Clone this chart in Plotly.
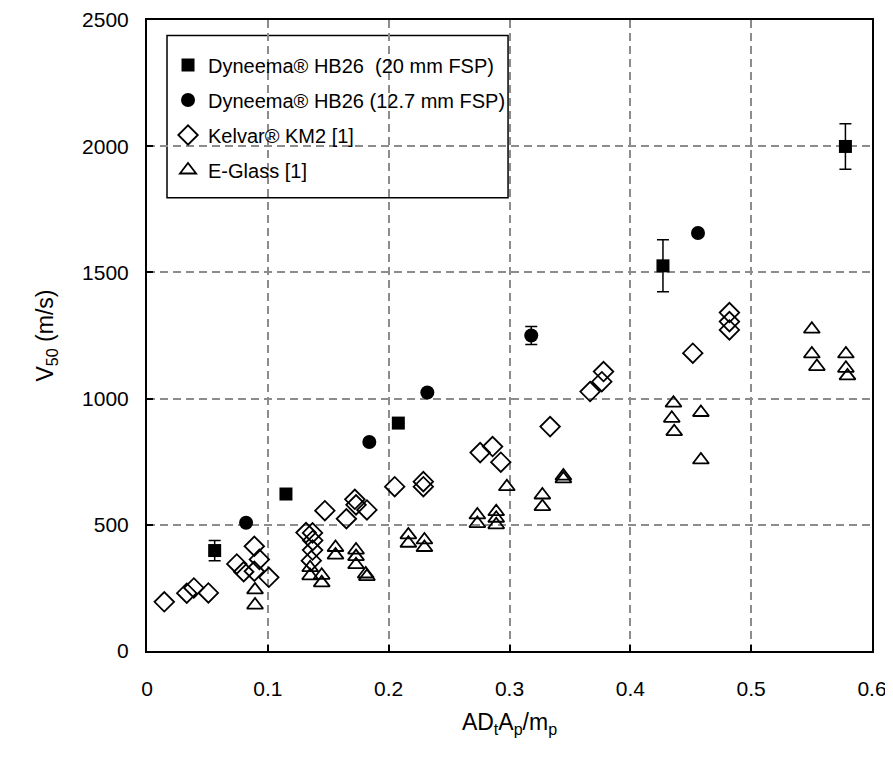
import plotly.graph_objects as go

# Dyneema HB26 (20 mm FSP)
dy20_x = [0.056, 0.115, 0.208, 0.427, 0.578]
dy20_y = [398, 622, 903, 1526, 1999]
dy20_err = [40, 0, 0, 103, 90]

# Dyneema HB26 (12.7 mm FSP)
dy12_x = [0.082, 0.184, 0.232, 0.318, 0.456]
dy12_y = [508, 828, 1024, 1250, 1656]
dy12_err = [0, 0, 0, 36, 0]

# Kevlar KM2 [1]
kev_x = [0.0143, 0.0329, 0.0388, 0.0508, 0.0743, 0.0800, 0.0888, 0.0930, 0.0888, 0.1008,
         0.1316, 0.1370, 0.1372, 0.1370, 0.1360, 0.1472, 0.1650, 0.1720, 0.1730, 0.1820,
         0.2050, 0.2287, 0.2287, 0.2757, 0.2860, 0.2928, 0.3336, 0.3667, 0.3764, 0.3778,
         0.4517, 0.4820, 0.4820, 0.4820]
kev_y = [195, 229, 250, 230, 345, 314, 415, 363, 316, 292,
         469, 468, 438, 400, 358, 556, 524, 601, 579, 559,
         651, 671, 651, 786, 810, 748, 889, 1028, 1067, 1107,
         1180, 1341, 1305, 1272]

# E-Glass [1]
eg_x = [0.0894, 0.0894, 0.1350, 0.1350, 0.1446, 0.1446, 0.1560, 0.1560, 0.1730, 0.1730,
        0.1730, 0.1810, 0.1820, 0.2163, 0.2163, 0.2296, 0.2296, 0.2734, 0.2734, 0.2890,
        0.2890, 0.2890, 0.2978, 0.3272, 0.3272, 0.3446, 0.3446, 0.4357, 0.4343, 0.4363,
        0.4584, 0.4584, 0.5502, 0.5502, 0.5544, 0.5784, 0.5784, 0.5797]
eg_y = [242, 182, 330, 298, 300, 270, 410, 380, 400, 374,
        342, 305, 295, 460, 427, 440, 410, 539, 505, 552,
        526, 500, 651, 618, 572, 693, 682, 982, 922, 869,
        945, 757, 1275, 1177, 1127, 1177, 1120, 1090]

x_ticks = [0, 0.1, 0.2, 0.3, 0.4, 0.5, 0.6]
x_tick_text = ["0", "0.1", "0.2", "0.3", "0.4", "0.5", "0.6"]
y_ticks = [0, 500, 1000, 1500, 2000, 2500]

FONT = "Arial, Liberation Sans, sans-serif"

fig = go.Figure()

fig.add_trace(go.Scatter(
    x=dy20_x, y=dy20_y, mode="markers", name="Dyneema® HB26  (20 mm FSP)", legendgroup="a",
    marker=dict(symbol="square", size=13, color="black"),
    error_y=dict(type="data", array=dy20_err, visible=True, color="black", thickness=1.5, width=6),
))
fig.add_trace(go.Scatter(
    x=dy12_x, y=dy12_y, mode="markers", name="Dyneema® HB26 (12.7 mm FSP)", legendgroup="b",
    marker=dict(symbol="circle", size=14, color="black"),
    error_y=dict(type="data", array=dy12_err, visible=True, color="black", thickness=1.5, width=6),
))
fig.add_trace(go.Scatter(
    x=kev_x, y=kev_y, mode="markers", name="Kelvar® KM2 [1]", legendgroup="c",
    marker=dict(symbol="diamond-open", size=15, color="black", line=dict(width=1.8, color="black")),
))
fig.add_trace(go.Scatter(
    x=eg_x, y=eg_y, mode="markers", name="E-Glass [1]", legendgroup="d",
    marker=dict(symbol="triangle-up-open", size=14, color="black", line=dict(width=1.8, color="black")),
))

axis_common = dict(
    showline=True, linecolor="black", linewidth=2, mirror=True,
    showgrid=True, gridcolor="#8c8c8c", gridwidth=1.5, griddash="8px,5px",
    ticks="inside", ticklen=6, tickcolor="black", tickwidth=1.5,
    zeroline=False, automargin=False,
    tickfont=dict(family=FONT, size=21, color="black"),
)

fig.update_xaxes(
    range=[0, 0.6], tickvals=x_ticks, ticktext=x_tick_text,
    ticklabelstandoff=18,
    title=dict(text="AD<sub>t</sub>A<sub>p</sub>/m<sub>p</sub>", font=dict(family=FONT, size=23, color="black"), standoff=15),
    **axis_common,
)
fig.update_yaxes(
    range=[0, 2500], tickvals=y_ticks,
    ticklabelstandoff=12,
    title=dict(text="V<sub>50</sub> (m/s)", font=dict(family=FONT, size=23, color="black"), standoff=22),
    **axis_common,
)

# legend frame (drawn as a box so the inner padding matches the original)
fig.add_shape(
    type="rect", xref="paper", yref="paper",
    x0=0.0276, x1=0.498, y0=0.7185, y1=0.9754,
    line=dict(color="black", width=1.5), fillcolor="white", layer="between",
)

fig.update_layout(
    width=885, height=742,
    margin=dict(l=139, r=21, t=12, b=99),
    paper_bgcolor="white", plot_bgcolor="white",
    showlegend=True,
    legend=dict(
        x=0.029, y=0.9596, xanchor="left", yanchor="top",
        bgcolor="rgba(0,0,0,0)", borderwidth=0,
        font=dict(family=FONT, size=20, color="black"),
        itemwidth=30, tracegroupgap=6,
    ),
    font=dict(family=FONT, color="black"),
)

fig.write_html("out.html")
